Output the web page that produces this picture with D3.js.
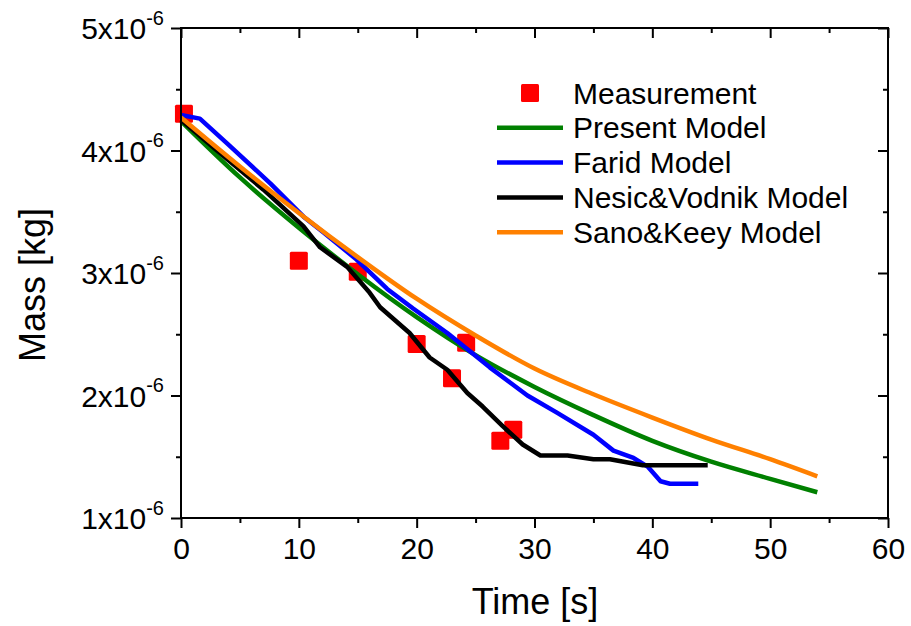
<!DOCTYPE html>
<html><head><meta charset="utf-8">
<script src="https://cdn.jsdelivr.net/npm/d3@7"></script>
<style>body{margin:0;background:#fff}svg{display:block}text{font-family:"Liberation Sans",Arial,sans-serif}</style>
</head><body><svg id="c" width="911" height="626"></svg>
<script>
// values in units of 1e-6 kg
const measT = [0.25, 10, 15, 20, 23, 24.2, 27.1, 28.2];
const measM = [4.30, 3.10, 3.01, 2.42, 2.14, 2.43, 1.63, 1.72];
const presentT = [0, 5, 10, 15, 20, 25, 30, 35, 40, 45, 50, 54];
const presentM = [4.24, 3.78, 3.37, 2.99, 2.64, 2.33, 2.07, 1.84, 1.63, 1.46, 1.32, 1.21];
const faridT = [0, 1.6, 4, 7.6, 10.4, 12.1, 14.9, 17.5, 19.7, 22.6, 26.2, 29.4, 31.9, 35, 36.7, 38.4, 39.6, 40.7, 41.5, 43.9];
const faridM = [4.29, 4.26, 4.05, 3.73, 3.46, 3.33, 3.11, 2.87, 2.71, 2.51, 2.23, 2.00, 1.86, 1.68, 1.55, 1.49, 1.42, 1.30, 1.28, 1.28];
const nesicT = [0, 3.3, 7, 10.4, 11.8, 14.1, 16, 16.9, 19.4, 21.1, 22.6, 24.3, 25.6, 27.3, 29.0, 30.5, 32.8, 35, 36.4, 39.2, 44.7];
const nesicM = [4.25, 3.98, 3.68, 3.38, 3.21, 3.05, 2.84, 2.72, 2.51, 2.31, 2.21, 2.02, 1.91, 1.75, 1.60, 1.51, 1.51, 1.48, 1.48, 1.43, 1.43];
const sanoT = [0, 5, 10, 15, 20, 25, 30, 35, 40, 45, 50, 54];
const sanoM = [4.27, 3.87, 3.49, 3.13, 2.79, 2.49, 2.22, 2.01, 1.82, 1.64, 1.48, 1.34];
const xTicks = [0, 10, 20, 30, 40, 50, 60];
const yTicks = [1, 2, 3, 4, 5];
const legendNames = ["Measurement", "Present Model", "Farid Model", "Nesic&Vodnik Model", "Sano&Keey Model"];
const colors = ["#ff0000", "#008000", "#0000ff", "#000000", "#ff8000"];

const svg = d3.select("#c");
const x = d3.scaleLinear().domain([0, 60]).range([181, 888]);
const y = d3.scaleLinear().domain([1, 5]).range([518, 28]);

const zip = (a, b) => a.map((v, i) => [v, b[i]]);

// measurement squares
svg.append("g").selectAll("rect").data(zip(measT, measM)).join("rect")
  .attr("x", d => x(d[0]) - 9).attr("y", d => y(d[1]) - 9)
  .attr("width", 18).attr("height", 18).attr("rx", 1.5)
  .attr("fill", colors[0]);

const series = [
  [presentT, presentM, colors[1], d3.curveMonotoneX],
  [faridT, faridM, colors[2], d3.curveLinear],
  [nesicT, nesicM, colors[3], d3.curveLinear],
  [sanoT, sanoM, colors[4], d3.curveMonotoneX]
];
series.forEach(s => {
  const line = d3.line().x(d => x(d[0])).y(d => y(d[1])).curve(s[3]);
  svg.append("path").datum(zip(s[0], s[1]))
    .attr("d", line)
    .attr("fill", "none").attr("stroke", s[2]).attr("stroke-width", 4.5)
    .attr("stroke-linejoin", "round");
});

// axes
const minorX = d3.range(5, 60, 10), minorY = [1.5, 2.5, 3.5, 4.5];
const gB = svg.append("g").attr("transform", `translate(0,${y(1)})`)
  .call(d3.axisBottom(x).tickValues(xTicks).tickSize(10).tickPadding(10).tickFormat(d3.format("d")));
const gBm = svg.append("g").attr("transform", `translate(0,${y(1)})`)
  .call(d3.axisBottom(x).tickValues(minorX).tickSize(5).tickFormat(""));
const gT = svg.append("g").attr("transform", `translate(0,${y(5)})`)
  .call(d3.axisBottom(x).tickValues(xTicks).tickSize(10).tickFormat(""));
const gTm = svg.append("g").attr("transform", `translate(0,${y(5)})`)
  .call(d3.axisBottom(x).tickValues(minorX).tickSize(5).tickFormat(""));
const gL = svg.append("g").attr("transform", `translate(${x(0)},0)`)
  .call(d3.axisLeft(y).tickValues(yTicks).tickSize(10).tickFormat(""));
const gLm = svg.append("g").attr("transform", `translate(${x(0)},0)`)
  .call(d3.axisLeft(y).tickValues(minorY).tickSize(5).tickFormat(""));
const gR = svg.append("g").attr("transform", `translate(${x(60)},0)`)
  .call(d3.axisLeft(y).tickValues(yTicks).tickSize(10).tickFormat(""));
const gRm = svg.append("g").attr("transform", `translate(${x(60)},0)`)
  .call(d3.axisLeft(y).tickValues(minorY).tickSize(5).tickFormat(""));

[gB, gBm, gT, gTm, gL, gLm, gR, gRm].forEach(g => {
  g.select(".domain").remove();
  g.selectAll("line").attr("stroke", "#000").attr("stroke-width", 2);
});
gB.selectAll("text").attr("font-size", 30).attr("fill", "#000").attr("font-family", "Liberation Sans, Arial");

// frame
svg.append("rect").attr("x", x(0)).attr("y", y(5)).attr("width", x(60) - x(0)).attr("height", y(1) - y(5))
  .attr("fill", "none").attr("stroke", "#000").attr("stroke-width", 2);

// y tick labels
const yl = svg.append("g").selectAll("text").data(yTicks).join("text")
  .attr("x", 164).attr("y", d => y(d) + 11).attr("text-anchor", "end")
  .attr("font-size", 30).attr("fill", "#000");
yl.append("tspan").text(d => d + "x10");
yl.append("tspan").attr("font-size", 20).attr("dy", -14.5).text("-6");

// axis titles
svg.append("text").attr("x", 535).attr("y", 614).attr("text-anchor", "middle")
  .attr("font-size", 36).text("Time [s]");
svg.append("text").attr("transform", `translate(45,285) rotate(-90)`).attr("text-anchor", "middle")
  .attr("font-size", 36).text("Mass [kg]");

// legend
const lg = svg.append("g");
const rowY = i => 93 + i * 34.8;
legendNames.forEach((n, i) => {
  if (i === 0) {
    lg.append("rect").attr("x", 521).attr("y", rowY(i) - 9).attr("width", 18).attr("height", 18)
      .attr("rx", 1.5).attr("fill", colors[0]);
  } else {
    lg.append("line").attr("x1", 497).attr("x2", 563).attr("y1", rowY(i)).attr("y2", rowY(i))
      .attr("stroke", colors[i]).attr("stroke-width", 4.5);
  }
  lg.append("text").attr("x", 573).attr("y", rowY(i) + 10.5).attr("font-size", 30).text(n);
});
</script></body></html>
